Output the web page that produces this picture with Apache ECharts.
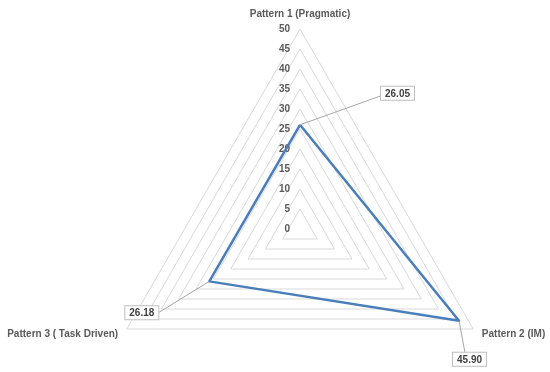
<!DOCTYPE html>
<html>
<head>
<meta charset="utf-8">
<script src="https://cdn.jsdelivr.net/npm/echarts@6/dist/echarts.min.js"></script>
<style>
  html, body { margin: 0; padding: 0; background: #fff; }
  #chart { width: 550px; height: 372px; }
</style>
</head>
<body>
<div id="chart"></div>
<script>
// order is top, lower-left, lower-right (echarts goes counter-clockwise)
const patterns = ['Pattern 1 (Pragmatic)', 'Pattern 3 ( Task Driven)', 'Pattern 2 (IM)'];
const scores = [26.05, 26.18, 45.90];
const axisMax = 50;
const axisSteps = 10;

const chart = echarts.init(document.getElementById('chart'), null, { renderer: 'canvas' });
const textColor = '#595959';

const indicators = patterns.map((name, i) => {
  const item = { name, min: 0, max: axisMax };
  if (i > 0) item.axisLabel = { show: false }; // scale only on the top axis
  return item;
});

chart.setOption({
  animation: false,
  backgroundColor: '#fff',
  radar: {
    center: [300, 229],
    radius: 200,
    shape: 'polygon',
    splitNumber: axisSteps,
    startAngle: 90,
    nameGap: 10,
    axisName: { color: textColor, fontSize: 10, fontWeight: 'bold', fontFamily: 'Liberation Sans, Arial, sans-serif' },
    indicator: indicators,
    axisLine: { show: false },
    axisTick: { show: false },
    axisLabel: {
      show: true,
      color: textColor,
      fontSize: 10,
      fontWeight: 'bold',
      fontFamily: 'Liberation Sans, Arial, sans-serif',
      margin: 10
    },
    splitLine: { lineStyle: { color: '#d9d9d9', width: 1 } },
    splitArea: { show: false }
  },
  series: [{
    type: 'radar',
    symbol: 'none',
    lineStyle: { color: '#4a7ebb', width: 2.5 },
    data: [{ value: scores }]
  }]
});

// data labels with leader lines, placed off each point
const radar = chart.getModel().getComponent('radar').coordinateSystem;
const labelOffsets = [[81, -38], [-84, 25], [-6, 32]];
const leaderEnds = [[0, 9], [32, 7], [12, 0]];
const graphics = [];
scores.forEach((v, i) => {
  const p = radar.dataToPoint(v, i);
  const bx = p[0] + labelOffsets[i][0];
  const by = p[1] + labelOffsets[i][1];
  graphics.push({
    type: 'line',
    shape: { x1: p[0], y1: p[1], x2: bx + leaderEnds[i][0], y2: by + leaderEnds[i][1] },
    style: { stroke: '#a6a6a6', lineWidth: 1 },
    z: 10
  });
  graphics.push({
    type: 'text',
    x: bx,
    y: by,
    style: {
      text: v.toFixed(2),
      fill: '#404040',
      font: 'bold 10px "Liberation Sans", Arial, sans-serif',
      backgroundColor: '#fff',
      borderColor: '#bfbfbf',
      borderWidth: 1,
      padding: [2, 4, 1, 4]
    },
    z: 11
  });
});
chart.setOption({ graphic: graphics });
</script>
</body>
</html>
